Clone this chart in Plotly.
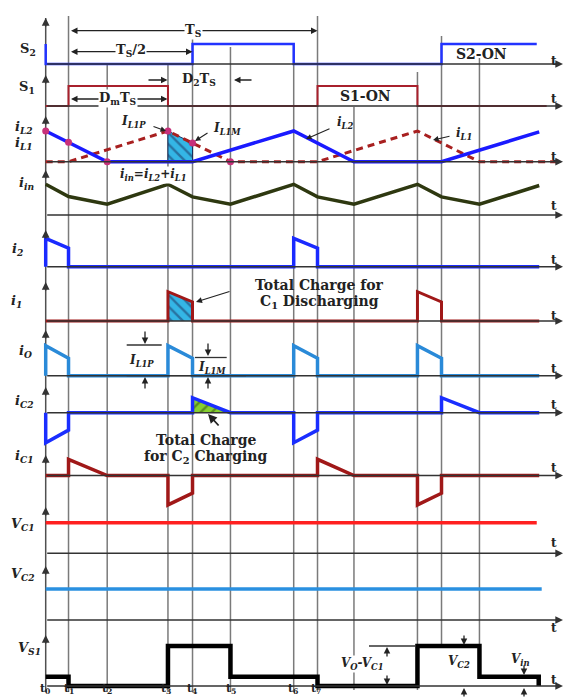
import plotly.graph_objects as go

W, H = 573, 698
FONT = "DejaVu Serif"

# ---------------- data (time in units of Ts) ----------------
t_instants = [0.0, 0.092, 0.248, 0.493, 0.592, 0.745, 1.0, 1.096, 1.243, 1.499, 1.596, 1.749]
t_labels = ["t<sub>0</sub>", "t<sub>1</sub>", "t<sub>2</sub>", "t<sub>3</sub>",
            "t<sub>4</sub>", "t<sub>5</sub>", "t<sub>6</sub>", "t<sub>7</sub>"]
t_axis_end = 2.086

s2_t = [0.0, 0.0, 0.592, 0.592, 1.0, 1.0, 1.596, 1.596, 1.98]
s2_v = [1, 0, 0, 1, 1, 0, 0, 1, 1]

s1_t = [0.0, 0.092, 0.092, 0.493, 0.493, 1.096, 1.096, 1.499, 1.499, 2.02]
s1_v = [0, 0, 1, 1, 0, 0, 1, 1, 0, 0]

il2_t = [0.0, 0.248, 0.592, 1.0, 1.243, 1.596, 1.99]
il2_v = [1.0, 0.0, 0.0, 1.0, 0.0, 0.0, 0.97]

il1_t = [0.0, 0.092, 0.493, 0.745, 1.096, 1.499, 1.749, 2.06]
il1_v = [0.0, 0.0, 1.0, 0.0, 0.0, 1.0, 0.0, 0.0]

mark_t = [0.0, 0.092, 0.248, 0.493, 0.592, 0.745]
mark_v = [1.0, 0.63, 0.0, 1.0, 0.61, 0.0]

iin_t = [0.0, 0.092, 0.248, 0.493, 0.592, 0.745, 1.0, 1.096, 1.243, 1.499, 1.596, 1.749, 1.99]
iin_v = [1.0, 0.6, 0.35, 1.0, 0.59, 0.35, 1.0, 0.59, 0.35, 1.0, 0.59, 0.35, 0.96]

i2_t = [0.0, 0.0, 0.092, 0.092, 1.0, 1.0, 1.096, 1.096, 1.99]
i2_v = [0, 1.0, 0.65, 0, 0, 1.0, 0.65, 0, 0]

i1_t = [0.0, 0.493, 0.493, 0.592, 0.592, 1.499, 1.499, 1.596, 1.596, 1.99]
i1_v = [0, 0, 1.0, 0.65, 0, 0, 1.0, 0.65, 0, 0]

io_t = [0.0, 0.0, 0.092, 0.092, 0.493, 0.493, 0.592, 0.592, 1.0, 1.0, 1.096, 1.096,
        1.499, 1.499, 1.596, 1.596, 1.99]
io_v = [0, 1.0, 0.58, 0, 0, 1.0, 0.58, 0, 0, 1.0, 0.58, 0, 0, 1.0, 0.58, 0, 0]

ic2_t = [0.0, 0.0, 0.092, 0.092, 0.592, 0.592, 0.745, 1.0, 1.0, 1.096, 1.096,
         1.596, 1.596, 1.749, 1.99]
ic2_v = [0, -1.0, -0.58, 0, 0, 0.5, 0, 0, -1.0, -0.58, 0, 0, 0.5, 0, 0]

ic1_t = [0.0, 0.092, 0.092, 0.248, 0.493, 0.493, 0.592, 0.592, 1.096, 1.096, 1.243,
         1.499, 1.499, 1.596, 1.596, 1.99]
ic1_v = [0, 0, 0.54, 0, 0, -0.98, -0.59, 0, 0, 0.54, 0, 0, -0.98, -0.59, 0, 0]

vc1_t = [0.0, 1.98]
vc1_v = [1.0, 1.0]
vc2_t = [0.0, 2.0]
vc2_v = [1.0, 1.0]

vs1_t = [0.0, 0.092, 0.092, 0.493, 0.493, 0.745, 0.745, 1.096, 1.096, 1.499, 1.499,
         1.749, 1.749, 1.988, 1.988]
vs1_v = [0.23, 0.23, 0, 0, 1.0, 1.0, 0.23, 0.23, 0, 0, 1.0, 1.0, 0.23, 0.23, 0]

hatch_il_t = [0.493, 0.493, 0.592, 0.592]
hatch_il_v = [0.0, 1.0, 0.61, 0.0]
hatch_i1_t = [0.493, 0.493, 0.592, 0.592]
hatch_i1_v = [0.0, 1.0, 0.65, 0.0]
hatch_ic2_t = [0.592, 0.592, 0.745]
hatch_ic2_v = [0.0, 0.5, 0.0]

# ---------------- layout helpers ----------------
X0PX, TSPX = 45.7, 248.0          # pixel of t0 and pixels per Ts
x_range = [(0 - X0PX) / TSPX, (W - X0PX) / TSPX]


def px(xp):
    return xp / W


def py(yp):
    return 1 - yp / H


# panel: key, baseline pixel, pixels per unit, label, label x, label y, axis-arrow top, t-label dy
panels = [
    ("S2", 64, 20, "<b>S<sub>2</sub></b>", 28, 50, 18, -3),
    ("S1", 106, 20, "<b>S<sub>1</sub></b>", 27, 88, 75, -7),
    ("iL", 161.7, 30.7, None, 0, 0, 116, -5),
    ("iin", 215, 30.7, "<b><i>i<sub>in</sub></i></b>", 26, 184, 170, -9),
    ("i2", 266.7, 28.4, "<b><i>i<sub>2</sub></i></b>", 17, 249, 230, -7),
    ("i1", 321, 29.3, "<b><i>i<sub>1</sub></i></b>", 16, 301, 282, -5),
    ("io", 375.7, 30, "<b><i>i<sub>O</sub></i></b>", 25, 351, 330, -7),
    ("ic2", 412.7, 30, "<b><i>i<sub>C2</sub></i></b>", 24, 401, 387, -8),
    ("ic1", 475.5, 30, "<b><i>i<sub>C1</sub></i></b>", 24, 456, 455, -8),
    ("vc1", 553.3, 30.6, "<b><i>V<sub>C1</sub></i></b>", 23, 524, 507, -10),
    ("vc2", 620, 31, "<b><i>V<sub>C2</sub></i></b>", 23, 574, 566, 8),
    ("vs1", 686, 40, "<b><i>V<sub>S1</sub></i></b>", 29, 648, 635, -6),
]

yid = {}
layout_axes = {}
for i, (key, pb, u, *_rest) in enumerate(panels):
    n = i + 1
    lo = min(1.6, (H - pb) / u - 0.002)
    hi = min(2.0, pb / u - 0.002)
    name = "yaxis" if n == 1 else f"yaxis{n}"
    yid[key] = "y" if n == 1 else f"y{n}"
    layout_axes[name] = dict(domain=[py(pb + lo * u), py(pb - hi * u)], range=[-lo, hi],
                             visible=False, fixedrange=True, anchor="x")

fig = go.Figure()


def add_line(key, xs, ys, color, width, dash=None, mode="lines", marker=None):
    fig.add_trace(go.Scatter(x=xs, y=ys, mode=mode, xaxis="x", yaxis=yid[key],
                             line=dict(color=color, width=width, dash=dash),
                             marker=marker, hoverinfo="skip", showlegend=False,
                             cliponaxis=False))


def add_hatch(key, xs, ys, bg, fg, shape):
    fig.add_trace(go.Scatter(x=xs, y=ys, mode="lines", fill="toself", xaxis="x",
                             yaxis=yid[key], line=dict(color=fg, width=1),
                             fillcolor=bg,
                             fillpattern=dict(shape=shape, fgcolor=fg, bgcolor=bg,
                                              size=8, solidity=0.3),
                             hoverinfo="skip", showlegend=False))


# hatched areas (under lines)
add_hatch("iL", hatch_il_t, hatch_il_v, "#34b6e6", "#1b2d5a", "\\")
add_hatch("i1", hatch_i1_t, hatch_i1_v, "#34b6e6", "#1b2d5a", "\\")
add_hatch("ic2", hatch_ic2_t, hatch_ic2_v, "#86d030", "#2d4a10", "/")

# waveforms
add_line("S2", s2_t, s2_v, "#2233ff", 2.5)
add_line("S1", s1_t, s1_v, "#a8202c", 2)
add_line("iL", il1_t, il1_v, "#a82020", 3, dash="7px,5px")
add_line("iL", il2_t, il2_v, "#1a1aff", 3.5)
add_line("iL", mark_t, mark_v, "#c8307a", 0, mode="markers",
         marker=dict(size=7, color="#c8307a"))
add_line("iin", iin_t, iin_v, "#2e3810", 3.5)
add_line("i2", i2_t, i2_v, "#1a2aff", 3.5)
add_line("i1", i1_t, i1_v, "#a01818", 3)
add_line("io", io_t, io_v, "#2a8ad8", 3.5)
add_line("ic2", ic2_t, ic2_v, "#1a2eff", 3.5)
add_line("ic1", ic1_t, ic1_v, "#a01818", 3.5)
add_line("vc1", vc1_t, vc1_v, "#ff2020", 3.5)
add_line("vc2", vc2_t, vc2_v, "#2a90e0", 3.5)
add_line("vs1", vs1_t, vs1_v, "#000000", 4.5)

shapes = []
annotations = []

# vertical timing lines (t, top px, bottom px)
vlines = [(t_instants[0], 18, 692, "#505050"), (t_instants[1], 16, 692, "#7a7a7a"),
          (t_instants[2], 65, 692, "#7a7a7a"), (t_instants[3], 65, 692, "#7a7a7a"),
          (t_instants[4], 33, 692, "#7a7a7a"), (t_instants[5], 47, 692, "#7a7a7a"),
          (t_instants[6], 44, 692, "#7a7a7a"), (t_instants[7], 16, 692, "#7a7a7a"),
          (t_instants[8], 107, 690, "#7a7a7a"), (t_instants[9], 72, 690, "#7a7a7a"),
          (t_instants[10], 36, 645, "#7a7a7a"), (t_instants[11], 58, 645, "#7a7a7a")]
for t, top, bot, col in vlines:
    shapes.append(dict(type="line", xref="x", yref="paper", x0=t, x1=t, y0=py(bot), y1=py(top),
                       line=dict(color=col, width=1.5), layer="below"))


def text(x, y, s, size=12, bg=None, anchor="center"):
    d = dict(x=px(x), y=py(y), xref="paper", yref="paper", text=s, showarrow=False,
             xanchor=anchor, yanchor="middle",
             font=dict(family=FONT, size=size, color="#222"))
    if bg:
        d["bgcolor"] = bg
        d["borderpad"] = 0
    annotations.append(d)


# horizontal time axes with arrows, y-axis arrowheads, labels
for key, pb, u, label, lx, ly, top, tdy in panels:
    annotations.append(dict(x=t_axis_end, y=0, xref="x", yref=yid[key], ax=0.0, ay=0,
                            axref="x", ayref=yid[key], text="", showarrow=True,
                            arrowhead=2, arrowsize=1.1, arrowwidth=1.4, arrowcolor="#333333",
                            standoff=0))
    annotations.append(dict(x=px(X0PX), y=py(top), xref="paper", yref="paper", ax=0, ay=10,
                            text="", showarrow=True, arrowhead=2, arrowsize=1.1,
                            arrowwidth=1.4, arrowcolor="#333333", standoff=0))
    text(554, pb + tdy, "<b>t</b>", 12)
    if label:
        text(lx, ly, label, 13)

text(24, 128, "<b><i>i<sub>L2</sub></i></b>", 13)
text(24, 143, "<b><i>i<sub>L1</sub></i></b>", 13)

# t labels at bottom
t_label_px = [45, 69, 107, 166, 192, 231, 293, 316]
for lab, xl in zip(t_labels, t_label_px):
    annotations.append(dict(x=px(xl), y=py(698), xref="paper", yref="paper",
                            text=f"<b>{lab}</b>", showarrow=False,
                            xanchor="center", yanchor="bottom",
                            font=dict(family=FONT, size=11, color="#222")))


def arrow(hx, hy, tx, ty, w=1.3, head=2, side="end", col="#222222"):
    annotations.append(dict(x=px(hx), y=py(hy), xref="paper", yref="paper",
                            ax=tx - hx, ay=ty - hy, text="", showarrow=True,
                            arrowhead=head, startarrowhead=head, arrowside=side,
                            arrowsize=1.0, startarrowsize=1.0,
                            arrowwidth=w, arrowcolor=col, standoff=0, startstandoff=0))


def seg(x0, y0, x1, y1, w=1.3, col="#333333"):
    shapes.append(dict(type="line", xref="paper", yref="paper", x0=px(x0), x1=px(x1),
                       y0=py(y0), y1=py(y1), line=dict(color=col, width=w)))


# dimension arrows at top
arrow(317.5, 30.7, 69.5, 30.7, side="end+start")
text(193, 30, "<b>T<sub>S</sub></b>", 13, bg="white")
arrow(192.5, 51.7, 69.5, 51.7, side="end+start")
text(131, 51, "<b>T<sub>S</sub>/2</b>", 13, bg="white")
arrow(167.5, 99, 69.5, 99, side="end+start")
text(118, 98.5, "<b>D<sub>m</sub>T<sub>S</sub></b>", 13, bg="white")
arrow(167.5, 80, 147, 80)
arrow(234, 80, 253, 80)
text(199, 79, "<b>D<sub>2</sub>T<sub>S</sub></b>", 13)
text(481, 54, "<b>S2-ON</b>", 14)
text(365, 96, "<b>S1-ON</b>", 14)

# inductor current labels
text(133, 122, "<b><i>I<sub>L1P</sub></i></b>", 12)
arrow(166, 131, 152, 126, w=1.1)
text(227, 129, "<b><i>I<sub>L1M</sub></i></b>", 12)
arrow(195, 141, 209, 132, w=1.1)
text(345, 123, "<b><i>i<sub>L2</sub></i></b>", 12)
arrow(306, 139, 331, 128, w=1.1)
text(464, 134, "<b><i>i<sub>L1</sub></i></b>", 12)
arrow(433, 140, 451, 136, w=1.1)
text(153, 175, "<b><i>i<sub>in</sub>=i<sub>L2</sub>+i<sub>L1</sub></i></b>", 12, bg="white")

# C1 discharging
text(319, 285, "<b>Total Charge for</b>", 14)
text(319, 302, "<b>C<sub>1</sub> Discharging</b>", 14)
arrow(196, 302, 231, 291, w=1.2)

# io annotations
seg(126.7, 345, 161.7, 345)
seg(126.7, 375.7, 246, 375.7)
arrow(145, 344, 145, 330)
arrow(145, 377, 145, 390)
text(141, 361, "<b><i>I<sub>L1P</sub></i></b>", 12)
seg(195, 357.5, 226.7, 357.5)
arrow(208, 356, 208, 342)
arrow(208, 377, 208, 390)
text(212, 368, "<b><i>I<sub>L1M</sub></i></b>", 12)

# C2 charging
text(206, 440, "<b>Total Charge</b>", 14)
text(206, 457, "<b>for C<sub>2</sub> Charging</b>", 14)
arrow(208, 414, 220, 427, w=1.8)

# VS1 annotations
seg(369, 646, 416, 646)
arrow(387, 647, 387, 658)
arrow(387, 685, 387, 674)
text(362, 664, "<b><i>V<sub>O</sub>-V<sub>C1</sub></i></b>", 12, bg="white")
arrow(464, 645, 464, 634)
arrow(464, 688, 464, 698)
text(459, 662, "<b><i>V<sub>C2</sub></i></b>", 12)
arrow(524, 675, 524, 664)
arrow(524, 688, 524, 698)
text(520, 660, "<b><i>V<sub>in</sub></i></b>", 12)

fig.update_layout(
    width=W, height=H, margin=dict(l=0, r=0, t=0, b=0),
    paper_bgcolor="white", plot_bgcolor="rgba(0,0,0,0)",
    xaxis=dict(range=x_range, domain=[0, 1], visible=False, fixedrange=True),
    shapes=shapes, annotations=annotations, showlegend=False,
    **layout_axes,
)

fig.write_html("out.html", config={"displayModeBar": False},
               post_script="document.body.style.margin='0px';")
